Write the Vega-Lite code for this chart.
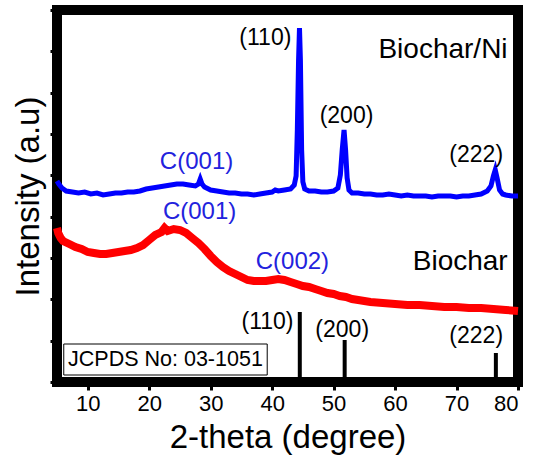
{
  "$schema": "https://vega.github.io/schema/vega-lite/v6.json",
  "width": 461,
  "height": 372,
  "autosize": {"type": "none"},
  "padding": {"left": 57, "top": 10, "right": 17, "bottom": 74},
  "background": "white",
  "config": {
    "view": {"stroke": "black", "strokeWidth": 10},
    "font": "Liberation Sans",
    "axis": {"grid": false, "domain": false, "tickColor": "black", "tickWidth": 3, "tickSize": 8, "labelColor": "black", "titleColor": "black", "titleFontWeight": "normal", "labelFont": "Liberation Sans", "titleFont": "Liberation Sans"}
  },
  "datasets": {
    "blue": [
      {"x": 5.0, "y": 201}, {"x": 5.3, "y": 198}, {"x": 5.8, "y": 194}, {"x": 6.5, "y": 191}, {"x": 7.5, "y": 190},
      {"x": 8.5, "y": 189}, {"x": 9.5, "y": 190}, {"x": 10.5, "y": 188}, {"x": 11.5, "y": 189}, {"x": 12.5, "y": 187},
      {"x": 13.5, "y": 188}, {"x": 14.5, "y": 189}, {"x": 15.5, "y": 189}, {"x": 16.5, "y": 190}, {"x": 17.5, "y": 190},
      {"x": 18.5, "y": 191}, {"x": 19.5, "y": 193}, {"x": 20.5, "y": 194}, {"x": 21.5, "y": 195}, {"x": 22.5, "y": 196},
      {"x": 23.5, "y": 197}, {"x": 24.5, "y": 198}, {"x": 25.5, "y": 198}, {"x": 26.5, "y": 197}, {"x": 27.5, "y": 196},
      {"x": 28.0, "y": 198}, {"x": 28.3, "y": 203}, {"x": 28.6, "y": 198}, {"x": 29.0, "y": 195}, {"x": 30.0, "y": 192},
      {"x": 31.0, "y": 191}, {"x": 32.0, "y": 190}, {"x": 33.0, "y": 189}, {"x": 34.0, "y": 189}, {"x": 35.0, "y": 188},
      {"x": 36.0, "y": 188}, {"x": 37.0, "y": 187}, {"x": 38.0, "y": 188}, {"x": 39.0, "y": 189}, {"x": 40.0, "y": 190},
      {"x": 40.5, "y": 192}, {"x": 41.0, "y": 191}, {"x": 42.0, "y": 192}, {"x": 43.0, "y": 193}, {"x": 43.6, "y": 197},
      {"x": 43.9, "y": 206}, {"x": 44.1, "y": 252}, {"x": 44.3, "y": 322}, {"x": 44.45, "y": 354}, {"x": 44.6, "y": 322},
      {"x": 44.8, "y": 232}, {"x": 45.0, "y": 200}, {"x": 45.3, "y": 193}, {"x": 46.0, "y": 191}, {"x": 47.0, "y": 191},
      {"x": 48.0, "y": 190}, {"x": 49.0, "y": 190}, {"x": 50.0, "y": 191}, {"x": 50.7, "y": 194}, {"x": 51.1, "y": 207},
      {"x": 51.4, "y": 232}, {"x": 51.7, "y": 252}, {"x": 51.95, "y": 232}, {"x": 52.2, "y": 204}, {"x": 52.5, "y": 192},
      {"x": 53.0, "y": 189}, {"x": 54.0, "y": 189}, {"x": 55.0, "y": 188}, {"x": 56.0, "y": 188}, {"x": 57.0, "y": 187},
      {"x": 58.0, "y": 187}, {"x": 59.0, "y": 188}, {"x": 60.0, "y": 187}, {"x": 61.0, "y": 186}, {"x": 62.0, "y": 187},
      {"x": 63.0, "y": 186}, {"x": 64.0, "y": 186}, {"x": 65.0, "y": 186}, {"x": 66.0, "y": 185}, {"x": 67.0, "y": 186},
      {"x": 68.0, "y": 186}, {"x": 69.0, "y": 186}, {"x": 70.0, "y": 185}, {"x": 71.0, "y": 186}, {"x": 72.0, "y": 186},
      {"x": 73.0, "y": 187}, {"x": 74.0, "y": 188}, {"x": 75.0, "y": 191}, {"x": 75.6, "y": 196}, {"x": 76.0, "y": 206},
      {"x": 76.3, "y": 212}, {"x": 76.6, "y": 204}, {"x": 77.0, "y": 192}, {"x": 77.5, "y": 188}, {"x": 78.0, "y": 187},
      {"x": 79.0, "y": 186}, {"x": 80.0, "y": 186}
    ],
    "red": [
      {"x": 5.0, "y": 154}, {"x": 5.2, "y": 149}, {"x": 5.6, "y": 144}, {"x": 6.0, "y": 141}, {"x": 7.0, "y": 138},
      {"x": 8.0, "y": 135}, {"x": 9.0, "y": 133}, {"x": 10.0, "y": 130}, {"x": 11.0, "y": 129}, {"x": 12.0, "y": 128},
      {"x": 13.0, "y": 128}, {"x": 14.0, "y": 129}, {"x": 15.0, "y": 130}, {"x": 16.0, "y": 131}, {"x": 17.0, "y": 132},
      {"x": 18.0, "y": 134}, {"x": 19.0, "y": 137}, {"x": 20.0, "y": 142}, {"x": 21.0, "y": 147}, {"x": 22.0, "y": 150},
      {"x": 22.5, "y": 154}, {"x": 23.0, "y": 151}, {"x": 24.0, "y": 153}, {"x": 25.0, "y": 152}, {"x": 26.0, "y": 149},
      {"x": 27.0, "y": 144}, {"x": 28.0, "y": 139}, {"x": 29.0, "y": 133}, {"x": 30.0, "y": 126}, {"x": 31.0, "y": 120},
      {"x": 32.0, "y": 115}, {"x": 33.0, "y": 111}, {"x": 34.0, "y": 108}, {"x": 35.0, "y": 105}, {"x": 36.0, "y": 102},
      {"x": 37.0, "y": 101}, {"x": 38.0, "y": 101}, {"x": 39.0, "y": 101}, {"x": 40.0, "y": 102}, {"x": 41.0, "y": 103},
      {"x": 42.0, "y": 102}, {"x": 43.0, "y": 100}, {"x": 44.0, "y": 98}, {"x": 45.0, "y": 96}, {"x": 46.0, "y": 95},
      {"x": 47.0, "y": 93}, {"x": 48.0, "y": 91}, {"x": 49.0, "y": 89}, {"x": 50.0, "y": 88}, {"x": 51.0, "y": 86},
      {"x": 52.0, "y": 85}, {"x": 53.0, "y": 83}, {"x": 54.0, "y": 82}, {"x": 55.0, "y": 81}, {"x": 56.0, "y": 80},
      {"x": 58.0, "y": 79}, {"x": 60.0, "y": 78}, {"x": 62.0, "y": 77}, {"x": 64.0, "y": 77}, {"x": 66.0, "y": 76},
      {"x": 68.0, "y": 75}, {"x": 70.0, "y": 75}, {"x": 72.0, "y": 74}, {"x": 74.0, "y": 74}, {"x": 76.0, "y": 73},
      {"x": 78.0, "y": 72}, {"x": 80.0, "y": 71}
    ],
    "refs": [
      {"x": 44.5, "y": 0, "y2": 70},
      {"x": 51.8, "y": 0, "y2": 42},
      {"x": 76.4, "y": 0, "y2": 29}
    ],
    "peakLabels": [
      {"x": 38.9, "y": 344, "label": "(110)"},
      {"x": 52.1, "y": 266, "label": "(200)"},
      {"x": 73.2, "y": 227, "label": "(222)"},
      {"x": 39.25, "y": 60, "label": "(110)"},
      {"x": 51.4, "y": 52, "label": "(200)"},
      {"x": 73.2, "y": 46, "label": "(222)"}
    ],
    "carbonLabels": [
      {"x": 27.7, "y": 220, "label": "C(001)"},
      {"x": 28.2, "y": 170, "label": "C(001)"},
      {"x": 43.3, "y": 120, "label": "C(002)"}
    ],
    "seriesLabels": [
      {"x": 67.8, "y": 332, "label": "Biochar/Ni"},
      {"x": 70.6, "y": 120, "label": "Biochar"}
    ],
    "box": [
      {"x": 6.1, "x2": 39.2, "y": 7, "y2": 38, "label": "JCPDS No: 03-1051", "tx": 6.8, "ty": 22}
    ]
  },
  "layer": [
    {
      "data": {"name": "refs"},
      "mark": {"type": "rule", "color": "black", "strokeWidth": 4},
      "encoding": {
        "x": {"field": "x", "type": "quantitative", "scale": {"domain": [5, 80], "nice": false, "zero": false},
          "axis": {"values": [10, 20, 30, 40, 50, 60, 70, 80], "title": "2-theta (degree)", "labelFontSize": 22, "labelPadding": 3, "titleFontSize": 33, "titleBaseline": "alphabetic", "titleY": 65}},
        "y": {"field": "y", "type": "quantitative", "scale": {"domain": [0, 372], "nice": false},
          "axis": {"values": [0, 41.33, 82.67, 124, 165.33, 206.67, 248, 289.33, 330.67, 372], "labels": false, "tickSize": 7, "title": "Intensity (a.u)", "titleFontSize": 33, "titleBaseline": "alphabetic", "titleX": -19, "titleY": 186}},
        "y2": {"field": "y2"}
      }
    },
    {
      "data": {"name": "red"},
      "mark": {"type": "line", "color": "#ff0000", "strokeWidth": 8},
      "encoding": {
        "x": {"field": "x", "type": "quantitative"},
        "y": {"field": "y", "type": "quantitative"}
      }
    },
    {
      "data": {"name": "blue"},
      "mark": {"type": "line", "color": "#0000ff", "strokeWidth": 5},
      "encoding": {
        "x": {"field": "x", "type": "quantitative"},
        "y": {"field": "y", "type": "quantitative"}
      }
    },
    {
      "data": {"name": "peakLabels"},
      "mark": {"type": "text", "fontSize": 23, "color": "black", "align": "center", "baseline": "middle"},
      "encoding": {
        "x": {"field": "x", "type": "quantitative"},
        "y": {"field": "y", "type": "quantitative"},
        "text": {"field": "label"}
      }
    },
    {
      "data": {"name": "carbonLabels"},
      "mark": {"type": "text", "fontSize": 24, "color": "#2222dd", "align": "center", "baseline": "middle"},
      "encoding": {
        "x": {"field": "x", "type": "quantitative"},
        "y": {"field": "y", "type": "quantitative"},
        "text": {"field": "label"}
      }
    },
    {
      "data": {"name": "seriesLabels"},
      "mark": {"type": "text", "fontSize": 28, "color": "black", "align": "center", "baseline": "middle"},
      "encoding": {
        "x": {"field": "x", "type": "quantitative"},
        "y": {"field": "y", "type": "quantitative"},
        "text": {"field": "label"}
      }
    },
    {
      "data": {"name": "box"},
      "mark": {"type": "rect", "fill": "white", "stroke": "black", "strokeWidth": 1},
      "encoding": {
        "x": {"field": "x", "type": "quantitative"},
        "x2": {"field": "x2"},
        "y": {"field": "y", "type": "quantitative"},
        "y2": {"field": "y2"}
      }
    },
    {
      "data": {"name": "box"},
      "mark": {"type": "text", "fontSize": 21.5, "color": "black", "align": "left", "baseline": "middle"},
      "encoding": {
        "x": {"field": "tx", "type": "quantitative"},
        "y": {"field": "ty", "type": "quantitative"},
        "text": {"field": "label"}
      }
    }
  ]
}
